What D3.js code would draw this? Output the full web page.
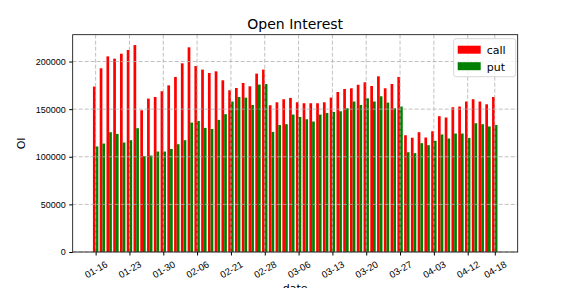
<!DOCTYPE html>
<html>
<head>
<meta charset="utf-8">
<script src="https://cdn.jsdelivr.net/npm/d3@7"></script>
<style>
  body { margin: 0; background: #fff; }
  svg { font-family: "DejaVu Sans", sans-serif; }
</style>
</head>
<body>
<svg width="576" height="288"></svg>
<script>
const dates = ['01-16','01-17','01-18','01-19','01-22','01-23','01-24','01-25','01-26','01-29',
  '01-30','01-31','02-01','02-02','02-05','02-06','02-07','02-08','02-09','02-12',
  '02-21','02-22','02-23','02-26','02-27','02-28','03-01','03-02','03-03','03-05',
  '03-06','03-07','03-08','03-09','03-12','03-13','03-14','03-15','03-16','03-19',
  '03-20','03-21','03-22','03-23','03-26','03-27','03-28','03-29','03-30','04-02',
  '04-03','04-04','04-09','04-10','04-11','04-12','04-13','04-16','04-17','04-18'];

const call = [173700,192900,205400,203000,208200,212100,217300,148800,161100,162800,
  168800,175000,183800,198100,214900,195300,191500,188000,189700,180300,
  169800,172200,177500,174000,187300,191500,154100,157200,160400,161800,
  157200,156200,156200,156200,157200,162100,168000,171200,171900,175600,
  178200,174300,184500,171900,176400,183800,122600,120000,125800,120200,
  126800,142600,141200,152000,152700,158000,160400,158000,155100,162800];

const put = [110800,113900,125800,124000,115000,117400,130000,100600,101300,105500,
  105500,108200,113200,117400,135900,137600,130300,129200,138700,144700,
  158000,162800,162100,154400,175800,176400,126100,133400,134200,144300,
  141800,139400,137000,144300,146000,147100,147800,150900,158000,154400,
  161400,158000,163500,156900,150900,152700,104800,103800,114300,112200,
  116700,123400,119200,124400,124400,119800,135200,134200,131800,133400];

const yTicks = [0, 50000, 100000, 150000, 200000];

const svg = d3.select('svg');
const width = +svg.attr('width');
const height = +svg.attr('height');

const margin = {top: 34.7, right: 58.3, bottom: 36, left: 72.7};
const innerWidth = width - margin.left - margin.right;
const innerHeight = height - margin.top - margin.bottom;
const barW = 0.4;

// x like matplotlib: data span plus 5% margins
const x0 = -barW, x1 = dates.length - 1 + barW;
const pad = (x1 - x0) * 0.05;
const xScale = d3.scaleLinear()
  .domain([x0 - pad, x1 + pad])
  .range([0, innerWidth]);

const yMax = d3.max(call.concat(put)) * 1.05;
const yScale = d3.scaleLinear()
  .domain([0, yMax])
  .range([innerHeight, 0]);

const g = svg.append('g')
  .attr('transform', `translate(${margin.left},${margin.top})`);

// bars
const idx = d3.range(dates.length);
g.selectAll('rect.call').data(idx)
  .enter().append('rect')
    .attr('x', i => xScale(i - barW))
    .attr('width', xScale(barW) - xScale(0))
    .attr('y', i => yScale(call[i]))
    .attr('height', i => innerHeight - yScale(call[i]))
    .attr('fill', '#ff0000');

g.selectAll('rect.put').data(idx)
  .enter().append('rect')
    .attr('x', i => xScale(i))
    .attr('width', xScale(barW) - xScale(0))
    .attr('y', i => yScale(put[i]))
    .attr('height', i => innerHeight - yScale(put[i]))
    .attr('fill', '#008000');

const xTicks = idx.filter(i => i % 5 === 0).concat([dates.length - 1]);

// grid on top of the bars
g.append('g').selectAll('line').data(yTicks)
  .enter().append('line')
    .attr('x1', 0).attr('x2', innerWidth)
    .attr('y1', d => yScale(d)).attr('y2', d => yScale(d))
    .attr('stroke', '#b0b0b0').attr('stroke-width', 0.8)
    .attr('stroke-dasharray', '4,2');

g.append('g').selectAll('line').data(xTicks)
  .enter().append('line')
    .attr('x1', d => xScale(d)).attr('x2', d => xScale(d))
    .attr('y1', 0).attr('y2', innerHeight)
    .attr('stroke', '#b0b0b0').attr('stroke-width', 0.8)
    .attr('stroke-dasharray', '4,2');

// axes
const yAxis = d3.axisLeft(yScale)
  .tickValues(yTicks)
  .tickSize(3.5)
  .tickPadding(3.5)
  .tickFormat(d3.format('d'));
const yAxisG = g.append('g').call(yAxis);
yAxisG.select('.domain').remove();
yAxisG.selectAll('text').attr('font-size', 9).attr('fill', '#000');

const xAxis = d3.axisBottom(xScale)
  .tickValues(xTicks)
  .tickSize(3.5)
  .tickFormat(i => dates[i]);
const xAxisG = g.append('g').call(xAxis)
  .attr('transform', `translate(0,${innerHeight})`);
xAxisG.select('.domain').remove();
// rotated 30 degrees, centred under the tick
xAxisG.selectAll('text')
  .attr('font-size', 9.5)
  .attr('fill', '#000')
  .attr('text-anchor', 'middle')
  .attr('y', 0)
  .attr('dy', '0.35em')
  .attr('transform', 'translate(0,17.5) rotate(-30)');

// frame
g.append('rect')
  .attr('width', innerWidth).attr('height', innerHeight)
  .attr('fill', 'none').attr('stroke', '#000').attr('stroke-width', 0.8);

// labels
svg.append('text')
  .attr('x', margin.left + innerWidth / 2).attr('y', 29)
  .attr('text-anchor', 'middle').attr('font-size', 14)
  .text('Open Interest');

svg.append('text')
  .attr('transform', `translate(25,${margin.top + innerHeight / 2}) rotate(-90)`)
  .attr('text-anchor', 'middle').attr('font-size', 11)
  .text('OI');

svg.append('text')
  .attr('x', margin.left + innerWidth / 2).attr('y', 292)
  .attr('text-anchor', 'middle').attr('font-size', 11)
  .attr('fill', '#000')
  .text('date');

// legend
const leg = g.append('g')
  .attr('transform', `translate(${innerWidth - 64},${4})`);
leg.append('rect')
  .attr('width', 62).attr('height', 38).attr('rx', 2.5)
  .attr('fill', '#fff').attr('fill-opacity', 0.8)
  .attr('stroke', '#cccccc').attr('stroke-width', 0.8);
const items = [['call', '#ff0000'], ['put', '#008000']];
items.forEach(([name, color], k) => {
  leg.append('rect')
    .attr('x', 4).attr('y', 7 + k * 16.5)
    .attr('width', 23).attr('height', 8)
    .attr('fill', color);
  leg.append('text')
    .attr('x', 33).attr('y', 15.5 + k * 16.5)
    .attr('font-size', 11)
    .text(name);
});
</script>
</body>
</html>
